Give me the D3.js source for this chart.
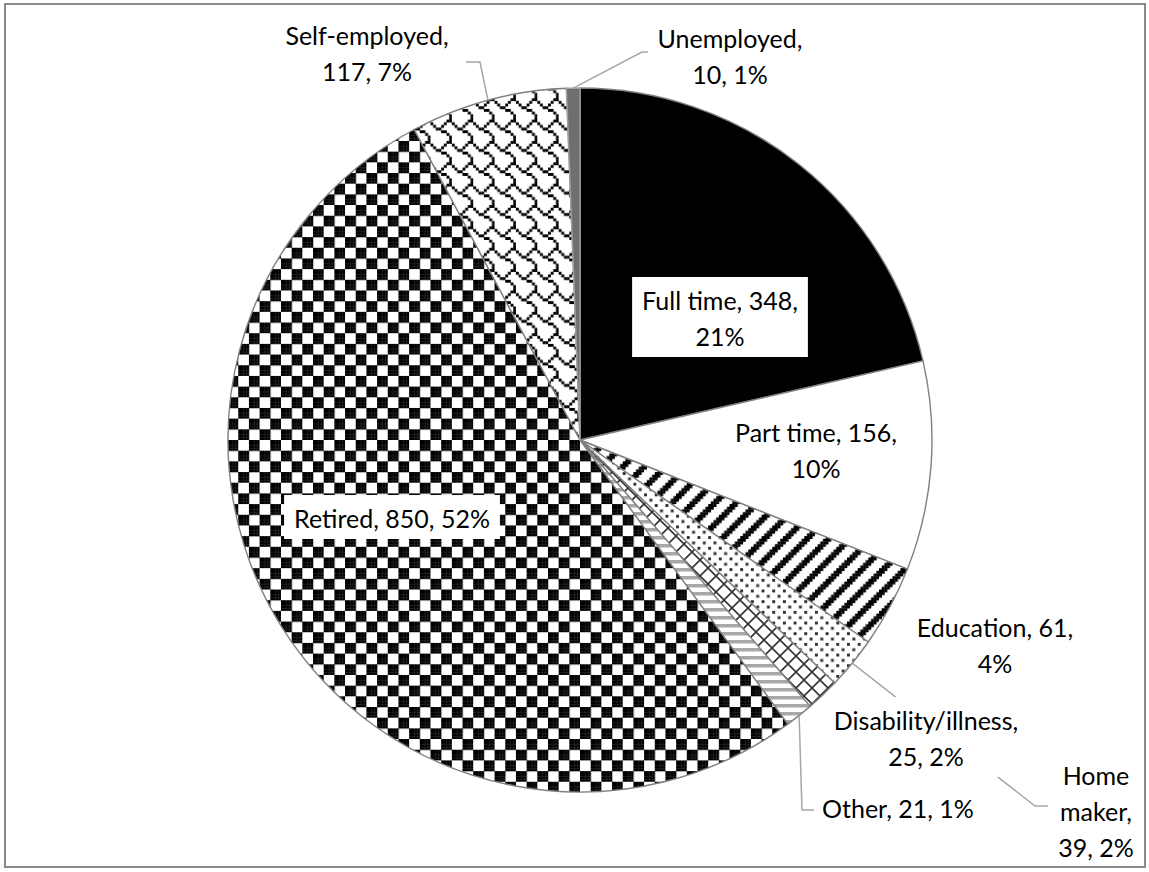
<!DOCTYPE html>
<html><head><meta charset="utf-8">
<script src="https://cdn.jsdelivr.net/npm/d3@7"></script>
<style>html,body{margin:0;padding:0;background:#fff;} svg{display:block;}</style>
</head><body><svg id="c" width="1149" height="872"></svg>
<script>
// ---- data ----
const categories = ["Full time","Part time","Education","Home maker","Disability/illness","Other","Retired","Self-employed","Unemployed"];
const values = [348,156,61,39,25,21,850,117,10];
const percents = ["21%","10%","4%","2%","2%","1%","52%","7%","1%"];

// ---- layout (not data) ----
const W = 1149, H = 872;
const cx = 580, cy = 440, R = 352;
const FONT = "Lato, 'Open Sans', sans-serif";
const FS = 25, LH = 36;
const labelLayout = {
  "Full time":          {x: 720, y: 310, wrap: "val", box: true},
  "Part time":          {x: 816, y: 442, wrap: "val"},
  "Education":          {x: 995, y: 637, wrap: "val"},
  "Home maker":         {x: 1096, y: 785, wrap: "three", leader: [[1035,806],[1048,806]]},
  "Disability/illness": {x: 926, y: 730, wrap: "name", box: true},
  "Other":              {x: 822, y: 818, wrap: "one", anchor: "start", leader: [[802,810],[814,810]]},
  "Retired":            {x: 392, y: 528, wrap: "one", box: true},
  "Self-employed":      {x: 367, y: 45, wrap: "name", leader: [[480,62],[466,62]]},
  "Unemployed":         {x: 730, y: 48, wrap: "name", leader: [[642,52],[648,52]]}
};

const svg = d3.select("#c");
const defs = svg.append("defs");
const S = 2.67;

function bitmapPattern(id, test, fg, bg) {
  const p = defs.append("pattern").attr("id", id).attr("patternUnits", "userSpaceOnUse")
    .attr("width", 8*S).attr("height", 8*S);
  p.append("rect").attr("width", 8*S).attr("height", 8*S).attr("fill", bg);
  for (let y = 0; y < 8; y++) for (let x = 0; x < 8; x++) {
    if (test(x, y)) p.append("rect").attr("x", x*S).attr("y", y*S)
      .attr("width", S+0.25).attr("height", S+0.25).attr("fill", fg);
  }
}
bitmapPattern("pChecker", (x,y) => ((x<4) !== (y<4)), "#000", "#fff");
bitmapPattern("pWideUp", (x,y) => ((x + y) % 8) < 3, "#000", "#fff");
const p20 = [0x88,0x00,0x22,0x00,0x88,0x00,0x22,0x00];
bitmapPattern("pDots", (x,y) => (p20[y] & (0x80>>x)) !== 0, "#333", "#fff");
const shingle = [0x03,0x84,0x48,0x30,0x0C,0x02,0x01,0x01];
bitmapPattern("pShingle", (x,y) => (shingle[y] & (0x80>>x)) !== 0, "#000", "#fff");
{
  const P = 16;
  const p = defs.append("pattern").attr("id","pDiagCross").attr("patternUnits","userSpaceOnUse")
    .attr("width", P).attr("height", P);
  p.append("rect").attr("width", P).attr("height", P).attr("fill", "#fff");
  p.append("path").attr("d", `M0,0L${P},${P}M${P},0L0,${P}M${-P/2},${P/2}L${P/2},${-P/2}M${P/2},${P*1.5}L${P*1.5},${P/2}M${-P/2},${P/2}L${P/2},${P*1.5}M${P/2},${-P/2}L${P*1.5},${P/2}`)
    .attr("stroke", "#333").attr("stroke-width", 1.6);
}
{
  const p = defs.append("pattern").attr("id","pHoriz").attr("patternUnits","userSpaceOnUse")
    .attr("width", 8).attr("height", 8);
  p.append("rect").attr("width", 8).attr("height", 8).attr("fill", "#fff");
  p.append("rect").attr("y", 0).attr("width", 8).attr("height", 3.5).attr("fill", "#a8a8a8");
}

const fills = {
  "Full time": "#000",
  "Part time": "#fff",
  "Education": "url(#pWideUp)",
  "Home maker": "url(#pDots)",
  "Disability/illness": "url(#pDiagCross)",
  "Other": "url(#pHoriz)",
  "Retired": "url(#pChecker)",
  "Self-employed": "url(#pShingle)",
  "Unemployed": "#6f6f6f"
};

svg.append("rect").attr("x", 5).attr("y", 4).attr("width", 1140).attr("height", 863)
  .attr("fill", "#fff").attr("stroke", "#8a8a8a").attr("stroke-width", 2);

const data = categories.map((c,i) => ({cat: c, value: values[i], pct: percents[i]}));
const pie = d3.pie().sort(null).value(d => d.value).startAngle(0).endAngle(2*Math.PI);
const arcs = pie(data);
const arc = d3.arc().innerRadius(0).outerRadius(R);

const g = svg.append("g").attr("transform", `translate(${cx},${cy})`);
g.selectAll("path.slice").data(arcs).enter().append("path")
  .attr("class", "slice")
  .attr("d", arc)
  .attr("fill", d => fills[d.data.cat])
  .attr("stroke", d => d.data.cat === "Unemployed" ? "#a0a0a0" : "#808080")
  .attr("stroke-width", 1.4)
  .attr("stroke-linejoin", "round");

const leaderG = svg.append("g");
arcs.forEach(a => {
  const L = labelLayout[a.data.cat];
  if (!L.leader) return;
  const mid = (a.startAngle + a.endAngle) / 2;
  const sx = cx + R * Math.sin(mid), sy = cy - R * Math.cos(mid);
  const pts = [[sx, sy]].concat(L.leader);
  leaderG.append("path").attr("d", d3.line()(pts))
    .attr("fill", "none").attr("stroke", "#a6a6a6").attr("stroke-width", 1.5);
});

function labelLines(d, mode) {
  if (mode === "val") return [`${d.cat}, ${d.value},`, d.pct];
  if (mode === "name") return [`${d.cat},`, `${d.value}, ${d.pct}`];
  if (mode === "three") { const w = d.cat.split(" "); return [w[0], w[1] + ",", `${d.value}, ${d.pct}`]; }
  return [`${d.cat}, ${d.value}, ${d.pct}`];
}
const labG = svg.append("g");
arcs.forEach(a => {
  const L = labelLayout[a.data.cat];
  const lines = labelLines(a.data, L.wrap);
  const grp = labG.append("g");
  const t = grp.append("text")
    .attr("font-family", FONT).attr("font-size", FS).attr("fill", "#000")
    .attr("text-anchor", L.anchor || "middle");
  lines.forEach((ln, i) => {
    t.append("tspan").attr("x", L.x).attr("y", L.y + i*LH).text(ln);
  });
  if (L.box) {
    const bb = t.node().getBBox();
    grp.insert("rect", "text")
      .attr("x", bb.x - 10).attr("y", bb.y - 8)
      .attr("width", bb.width + 20).attr("height", bb.height + 14)
      .attr("fill", "#fff");
  }
});
</script>
</body></html>
